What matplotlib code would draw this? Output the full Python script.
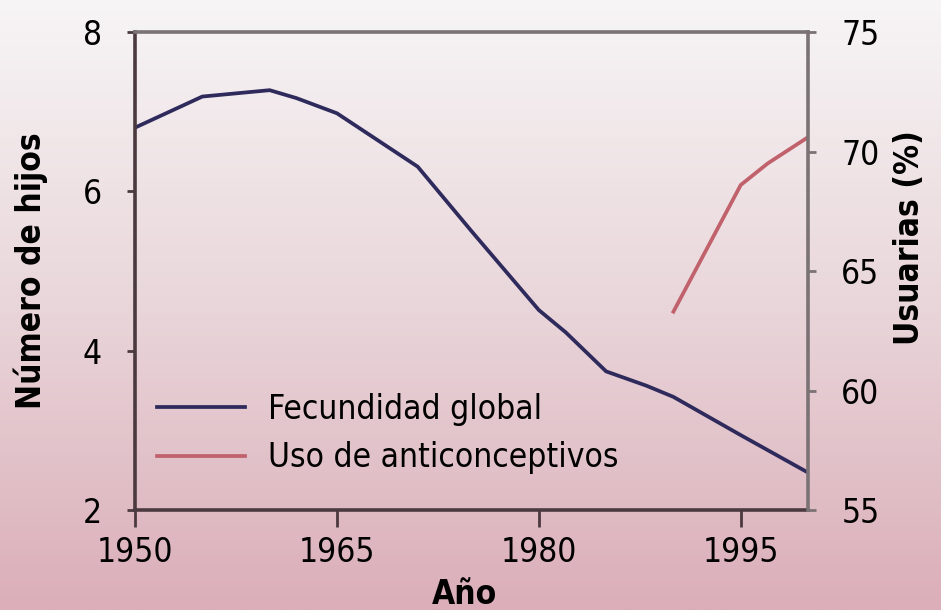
import numpy as np
import matplotlib.pyplot as plt
from matplotlib.colors import LinearSegmentedColormap

# Fecundidad global (hijos por mujer), eje izquierdo
anios_fec = [1950, 1955, 1960, 1962, 1965, 1971, 1975, 1980, 1982, 1985, 1988, 1990, 1995, 2000]
fecundidad = [6.80, 7.19, 7.27, 7.17, 6.98, 6.31, 5.50, 4.51, 4.23, 3.74, 3.56, 3.42, 2.94, 2.47]

# Uso de anticonceptivos (% usuarias), eje derecho
anios_anti = [1990, 1995, 1997, 2000]
anticonceptivos = [63.3, 68.6, 69.5, 70.6]

xticks = [1950, 1965, 1980, 1995]
yticks_izq = [2, 4, 6, 8]
yticks_der = [55, 60, 65, 70, 75]

plt.rcParams['font.family'] = ['DejaVu Sans']
plt.rcParams['font.stretch'] = 'condensed'
fs = 24

fig = plt.figure(figsize=(9.41, 6.10), dpi=100)

# fondo degradado
bg = fig.add_axes([0, 0, 1, 1], zorder=-10)
cmap = LinearSegmentedColormap.from_list('fondo', ['#f7f5f6', '#e9d6da', '#dbaeb9'])
grad = np.linspace(0, 1, 256).reshape(-1, 1)
bg.imshow(grad, aspect='auto', cmap=cmap, extent=[0, 1, 1, 0])
bg.axis('off')

ax = fig.add_axes([0.1435, 0.1639, 0.7152, 0.7836])
ax.patch.set_alpha(0)
ax2 = ax.twinx()

l1, = ax.plot(anios_fec, fecundidad, color='#2f2a5c', lw=2.7, label='Fecundidad global')
l2, = ax2.plot(anios_anti, anticonceptivos, color='#c0616b', lw=2.7, label='Uso de anticonceptivos')

ax.set_xlim(1950, 2000)
ax.set_ylim(2, 8)
ax2.set_ylim(55, 75)
ax.set_xticks(xticks)
ax.set_yticks(yticks_izq)
ax2.set_yticks(yticks_der)

dark = '#4a3a40'
grey = '#7a7274'
for s in ['left', 'bottom']:
    ax.spines[s].set_color(dark)
    ax.spines[s].set_linewidth(2.6)
for s in ['top', 'right']:
    ax2.spines[s].set_color(grey)
    ax2.spines[s].set_linewidth(2.6)
ax.spines['top'].set_visible(False)
ax.spines['right'].set_visible(False)
ax2.spines['left'].set_visible(False)
ax2.spines['bottom'].set_visible(False)

ax.tick_params(axis='x', direction='out', length=12, width=2, color=dark, labelsize=fs, pad=7)
ax.tick_params(axis='y', direction='out', length=6, width=2, color=dark, labelsize=fs, pad=18)
ax2.tick_params(axis='y', direction='out', length=6, width=2, color=grey, labelsize=fs, pad=18)

ax.set_xlabel('Año', fontsize=fs, fontweight='bold')
ax.xaxis.set_label_coords(0.49, -0.143)
ax.set_ylabel('Número de hijos', fontsize=fs, fontweight='bold')
ax.yaxis.set_label_coords(-0.129, 0.5)
ax2.set_ylabel('Usuarias (%)', fontsize=fs, fontweight='bold')
ax2.yaxis.set_label_coords(1.126, 0.571)

ax.legend(handles=[l1, l2], loc='center left', bbox_to_anchor=(0.033, 0.16), frameon=False,
          borderpad=0, borderaxespad=0, fontsize=fs, handlelength=2.64, handletextpad=0.69,
          labelspacing=0.47)

fig.savefig('out.png', dpi=100)
